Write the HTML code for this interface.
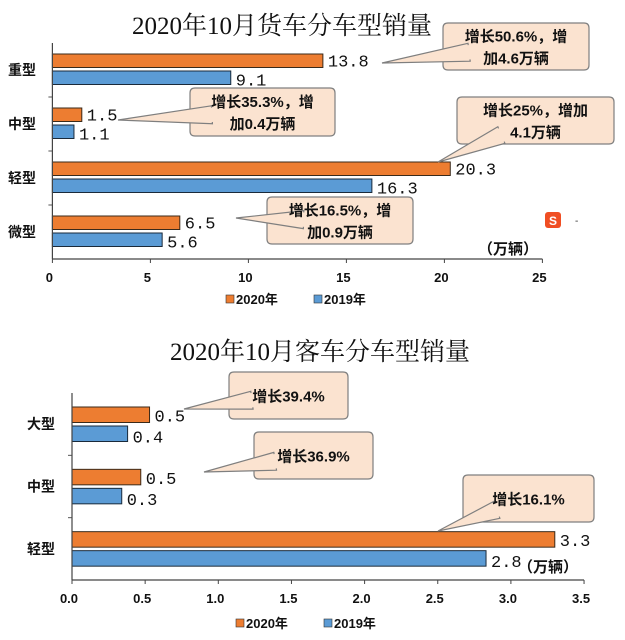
<!DOCTYPE html>
<html><head><meta charset="utf-8"><style>
html,body{margin:0;padding:0;background:#fff;}
svg{display:block;font-family:"Liberation Sans","Noto Sans CJK SC",sans-serif;}
.v{font-family:"Liberation Mono","Noto Sans CJK SC",monospace;font-size:17px;fill:#111;}
.cat{font-size:14px;font-weight:bold;fill:#111;}
.tick{font-size:13px;font-weight:bold;fill:#111;font-family:"Liberation Sans",sans-serif;}
.ttl{font-family:"Liberation Serif","Noto Serif CJK SC",serif;font-size:25px;fill:#111;}
.co{font-size:15px;font-weight:bold;fill:#111;font-family:"Liberation Sans","Noto Sans CJK SC",sans-serif;}
.lg{font-size:13px;font-weight:bold;fill:#111;}
</style></head><body>
<svg id="s" width="625" height="640" viewBox="0 0 625 640">
<text class="ttl" x="282" y="34" text-anchor="middle">2020年10月货车分车型销量</text>
<text class="ttl" x="320" y="360" text-anchor="middle">2020年10月客车分车型销量</text>
<g id="c1"></g>
<g id="c2"></g>
<g><rect x="545" y="212" width="16" height="16" rx="3" fill="#f04e23"/><text x="553" y="225" font-size="12" font-weight="bold" fill="#fff" text-anchor="middle">S</text><text x="575" y="224" font-size="10" fill="#333">-</text></g>
</svg>
<script>
const truckCats=["重型","中型","轻型","微型"];
const truck2020=[13.8,1.5,20.3,6.5];
const truck2019=[9.1,1.1,16.3,5.6];
const truckTicks=["0","5","10","15","20","25"];
const truckNotes=[["增长50.6%，增","加4.6万辆"],["增长35.3%，增","加0.4万辆"],["增长25%，增加","4.1万辆"],["增长16.5%，增","加0.9万辆"]];
const busCats=["大型","中型","轻型"];
const bus2020=[0.53,0.47,3.3];
const bus2019=[0.38,0.34,2.83];
const busLabels2020=["0.5","0.5","3.3"];
const busLabels2019=["0.4","0.3","2.8"];
const busTicks=["0.0","0.5","1.0","1.5","2.0","2.5","3.0","3.5"];
const busNotes=[["增长39.4%"],["增长36.9%"],["增长16.1%"]];
const NS="http://www.w3.org/2000/svg";
function mk(p,t,a){const e=document.createElementNS(NS,t);for(const k in a)e.setAttribute(k,a[k]);p.appendChild(e);return e;}
function callout(g,box,tip,lines,name){
  const [x,y,w,h]=box;const cx=x+w/2,cy=y+h/2;
  const dx=tip[0]-cx,dy=tip[1]-cy;const L=Math.hypot(dx,dy);const px=-dy/L*9,py=dx/L*9;
  const p=mk(g,"path",{d:`M${x+5},${y}H${x+w-5}Q${x+w},${y} ${x+w},${y+5}V${y+h-5}Q${x+w},${y+h} ${x+w-5},${y+h}H${x+5}Q${x},${y+h} ${x},${y+h-5}V${y+5}Q${x},${y} ${x+5},${y}Z`,fill:"#fbe3d0",stroke:"#7f7f7f","stroke-width":1.2});
  
  
  const bx=cx+dx*0.35,by=cy+dy*0.35;
  const t=mk(g,"path",{d:`M${bx+px},${by+py}L${tip[0]},${tip[1]}L${bx-px},${by-py}Z`,fill:"#fbe3d0",stroke:"#7f7f7f","stroke-width":1.2});
  
  
  mk(g,"path",{d:`M${bx+px*0.8},${by+py*0.8}L${bx-px*0.8},${by-py*0.8}`,stroke:"#fbe3d0","stroke-width":3});
  lines.forEach((s,i)=>{const tx=mk(g,"text",{class:"co",x:cx,y:cy+6+(i-(lines.length-1)/2)*22,"text-anchor":"middle"});tx.textContent=s;
    
    });
}
function chart(g,o){
  const sx=v=>o.x0+v*o.unit;const ch=(o.yb-o.yt)/o.cats.length;
  o.cats.forEach((c,i)=>{const top=o.yt+i*ch;
    const r1=mk(g,"rect",{x:o.x0,y:top+o.off1,width:sx(o.a[i])-o.x0,height:o.bh,fill:"#ed7d31",stroke:"#3a2a1a","stroke-width":1});
    
    
    const r2=mk(g,"rect",{x:o.x0,y:top+o.off2,width:sx(o.b[i])-o.x0,height:o.bh,fill:"#5b9bd5",stroke:"#1a2a3a","stroke-width":1});
    
    
    const t1=mk(g,"text",{class:"v",x:sx(o.a[i])+5,y:top+o.off1+o.bh-1});t1.textContent=o.la[i];
    
    
    const t2=mk(g,"text",{class:"v",x:sx(o.b[i])+5,y:top+o.off2+o.bh+1});t2.textContent=o.lb[i];
    
    
    const cl=mk(g,"text",{class:"cat",x:o.catx,y:top+ch/2+5});cl.textContent=c;
    
    
    if(i>0)mk(g,"line",{x1:o.x0-4,x2:o.x0,y1:top,y2:top,stroke:"#555"});
  });
  mk(g,"line",{x1:o.x0,x2:o.x0,y1:o.yt,y2:o.yb,stroke:"#444","stroke-width":1.2});
  mk(g,"line",{x1:o.x0,x2:sx(o.max),y1:o.yb,y2:o.yb,stroke:"#444","stroke-width":1.2});
  o.ticks.forEach((t,i)=>{const v=i*o.step;mk(g,"line",{x1:sx(v),x2:sx(v),y1:o.yb,y2:o.yb+4,stroke:"#444"});
    const tx=mk(g,"text",{class:"tick",x:sx(v)-3,y:o.tky,"text-anchor":"middle"});tx.textContent=t;
    
    });
  const u=mk(g,"text",{class:"co",x:o.unitx,y:o.unity});u.textContent="（万辆）";
  
  
  const lx=o.lgx;
  mk(g,"rect",{x:lx,y:o.lgy-9,width:8,height:8,fill:"#ed7d31",stroke:"#333","stroke-width":0.6});
  const l1=mk(g,"text",{class:"lg",x:lx+10,y:o.lgy});l1.textContent="2020年";
  
  
  mk(g,"rect",{x:lx+88,y:o.lgy-9,width:8,height:8,fill:"#5b9bd5",stroke:"#333","stroke-width":0.6});
  const l2=mk(g,"text",{class:"lg",x:lx+98,y:o.lgy});l2.textContent="2019年";
  
  
  o.notes.forEach((n,i)=>callout(g,o.boxes[i],o.tips[i],n,'callout-'+i));
}
chart(document.getElementById("c1"),{cats:truckCats,a:truck2020,b:truck2019,la:truck2020.map(v=>v.toFixed(1)),lb:truck2019.map(v=>v.toFixed(1)),
 x0:52.4,unit:19.6,max:25,step:5,ticks:truckTicks,yt:43,yb:259,off1:11,off2:28,bh:13.5,catx:8,tky:282,
 unitx:478,unity:254,lgx:226,lgy:304,notes:truckNotes,
 boxes:[[443,23,146,47],[190,88,145,48],[457,97,157,47],[267,197,146,47]],
 tips:[[382,63],[118,120],[438,162],[236,218]]});
chart(document.getElementById("c2"),{cats:busCats,a:bus2020,b:bus2019,la:busLabels2020,lb:busLabels2019,
 x0:72,unit:146.3,max:3.5,step:0.5,ticks:busTicks,yt:393,yb:580,off1:14,off2:33,bh:15.5,catx:27,tky:603,
 unitx:518,unity:572,lgx:236,lgy:628,notes:busNotes,
 boxes:[[229,372,119,47],[254,432,119,47],[463,475,131,47]],
 tips:[[184,409],[204,472],[438,531]]});
</script>
</body></html>
